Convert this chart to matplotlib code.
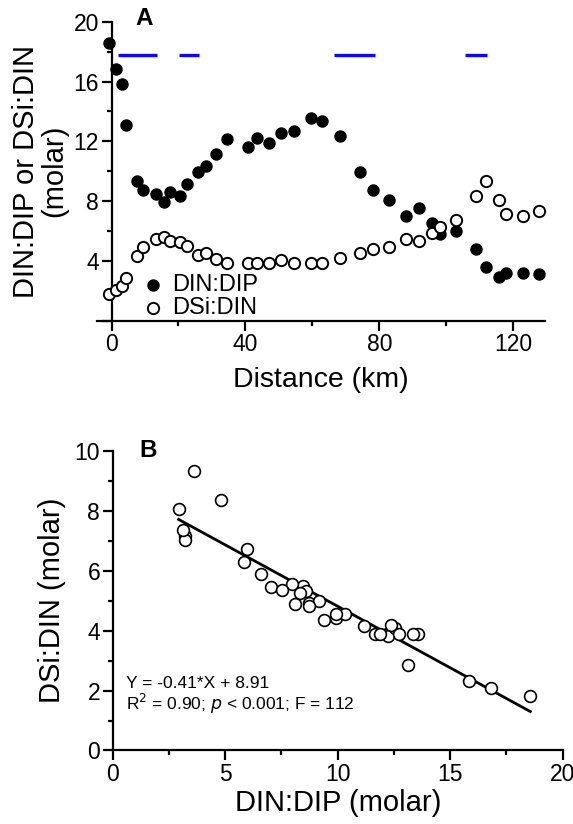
"""Two-panel nutrient ratio figure: ratios along the transect (A) and
DSi:DIN against DIN:DIP with a linear fit (B)."""

import matplotlib
matplotlib.use("Agg")
import matplotlib.pyplot as plt
from matplotlib.ticker import MultipleLocator

plt.rcParams["font.family"] = ["Liberation Sans", "DejaVu Sans"]

# distance along transect (km)
distance = [-0.8, 1.3, 3.0, 4.3, 7.7, 9.5, 13.4, 15.6, 17.4, 20.4, 22.4, 25.9,
            28.2, 31.1, 34.6, 40.7, 43.6, 47.0, 50.6, 54.5, 59.5, 63.0, 68.3,
            74.3, 78.0, 82.8, 87.9, 92.0, 95.8, 98.0, 102.8, 108.8, 111.9,
            115.7, 117.9, 122.9, 127.7]
din_dip = [18.56, 16.82, 15.83, 13.11, 9.38, 8.74, 8.47, 7.95, 8.60, 8.33,
           9.18, 9.94, 10.34, 11.15, 12.17, 11.64, 12.22, 11.86, 12.53, 12.71,
           13.58, 13.36, 12.37, 9.94, 8.74, 8.11, 7.04, 7.53, 6.57, 5.83, 5.99,
           4.80, 3.60, 2.93, 3.20, 3.20, 3.11]
dsi_din = [1.82, 2.08, 2.33, 2.86, 4.36, 4.92, 5.50, 5.57, 5.32, 5.27, 5.00,
           4.43, 4.56, 4.14, 3.89, 3.89, 3.83, 3.89, 4.07, 3.89, 3.89, 3.89,
           4.20, 4.54, 4.83, 4.90, 5.45, 5.34, 5.88, 6.28, 6.71, 8.35, 9.34,
           8.07, 7.15, 7.01, 7.35]

# blue bars near the top of panel A (start, end in km)
bar_start = [2.0, 20.2, 66.5, 105.7]
bar_end = [13.7, 26.2, 78.6, 112.3]
BAR_Y = 17.8

# regression from panel B
SLOPE, INTERCEPT = -0.41, 8.91

LW = 1.6


def style(ax):
    for s in ("top", "right"):
        ax.spines[s].set_visible(False)
    for s in ("left", "bottom"):
        ax.spines[s].set_linewidth(LW)
    ax.tick_params(which="major", length=7, width=LW, labelsize=16.5, pad=2)
    ax.tick_params(which="minor", length=3.5, width=LW)


fig = plt.figure(figsize=(5.73, 8.24), dpi=100)

# ---- panel A
ax = fig.add_axes([0.169, 0.6108, 0.782, 0.3627])
ax.scatter(distance, din_dip, s=66, c="black", edgecolors="black",
           linewidths=0.8, label="DIN:DIP", clip_on=False, zorder=3)
ax.scatter(distance, dsi_din, s=66, facecolors="white", edgecolors="black",
           linewidths=1.4, label="DSi:DIN", clip_on=False, zorder=3)
for a, b in zip(bar_start, bar_end):
    ax.plot([a, b], [BAR_Y, BAR_Y], color="#0a0af0", lw=2.4,
            solid_capstyle="butt")
ax.set_xlim(-4.4, 129.5)
ax.set_ylim(0, 20)
ax.spines["left"].set_position(("data", 0))
ax.set_xticks([0, 40, 80, 120])
ax.xaxis.set_minor_locator(MultipleLocator(20))
ax.set_yticks([0, 4, 8, 12, 16, 20])
ax.set_yticklabels(["", "4", "8", "12", "16", "20"])
ax.yaxis.set_minor_locator(MultipleLocator(2))
style(ax)
ax.set_xlabel("Distance (km)", fontsize=20.5, labelpad=8)
ax.set_ylabel("DIN:DIP or DSi:DIN\n(molar)", fontsize=21, labelpad=4,
              linespacing=1.0)
ax.text(7, 20.2, "A", fontsize=17.5, fontweight="bold", va="center")
ax.legend(loc="lower left", bbox_to_anchor=(0.108, 0.005), frameon=False,
          fontsize=17, handlelength=0.7, handletextpad=0.45,
          labelspacing=0.05, borderaxespad=0, borderpad=0,
          scatterpoints=1)

# ---- panel B
bx = fig.add_axes([0.1967, 0.0892, 0.7853, 0.3638])
bx.scatter(din_dip, dsi_din, s=72, facecolors="white", edgecolors="black",
           linewidths=1.2, clip_on=False, zorder=3)
x0, x1 = min(din_dip), max(din_dip)
bx.plot([x0, x1], [SLOPE * x0 + INTERCEPT, SLOPE * x1 + INTERCEPT],
        color="black", lw=2.0, zorder=2)
bx.set_xlim(0, 20)
bx.set_ylim(0, 10)
bx.set_xticks([0, 5, 10, 15, 20])
bx.xaxis.set_minor_locator(MultipleLocator(2.5))
bx.set_yticks([0, 2, 4, 6, 8, 10])
bx.yaxis.set_minor_locator(MultipleLocator(1))
style(bx)
bx.set_xlabel("DIN:DIP (molar)", fontsize=21, labelpad=2)
bx.set_ylabel("DSi:DIN (molar)", fontsize=21, labelpad=6)
bx.text(1.2, 10.0, "B", fontsize=17.5, fontweight="bold", va="center")
bx.text(0.6, 2.25, "Y = -0.41*X + 8.91", fontsize=12.5, va="center")
bx.text(0.6, 1.55, r"R$^2$ = 0.90; $p$ < 0.001; F = 112", fontsize=12.5,
        va="center")

fig.savefig("out.png", dpi=100)
